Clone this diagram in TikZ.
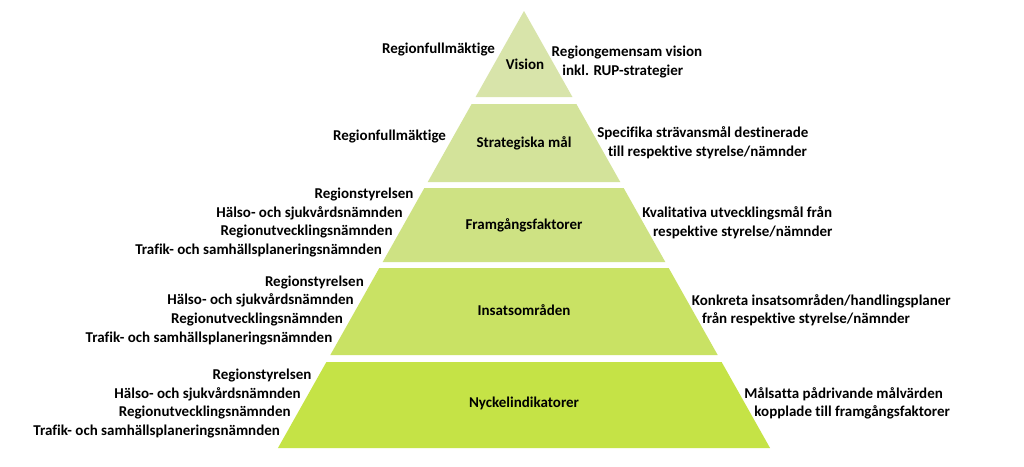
\documentclass[tikz,border=0pt]{standalone}
\usepackage{fontspec}
\setmainfont{Carlito}[Ligatures={NoCommon,NoRequired,NoContextual}]
\definecolor{lvA}{HTML}{D8E4AA}
\definecolor{lvB}{HTML}{D3E39A}
\definecolor{lvC}{HTML}{CEE283}
\definecolor{lvD}{HTML}{C9E264}
\definecolor{lvE}{HTML}{C5E346}
\newcommand\pyrX{524}
\newcommand\pyrS{0.563}
\newcommand\pyrLevel[3]{%
  \fill[#3] ({\pyrX-\pyrS*(#1-11)},#1) -- ({\pyrX+\pyrS*(#1-11)},#1)
    -- ({\pyrX+\pyrS*(#2-11)},#2) -- ({\pyrX-\pyrS*(#2-11)},#2) -- cycle;}
\newcommand\pyrL[3]{\node[lbl,anchor=base east] (#1) at ({\pyrX-\pyrS*(#2-11)-8},{#2+5}) {#3};}
\newcommand\pyrR[3]{\node[lbl,anchor=base west] (#1) at ({\pyrX+\pyrS*(#2-11)+5},{#2+5}) {#3};}
\begin{document}
\begin{tikzpicture}[x=1pt,y=-1pt,
  lbl/.style={inner sep=0pt,font=\fontsize{15}{18}\selectfont\bfseries,text=black}]
\useasboundingbox[fill=white] (0,0) rectangle (1024,466);
\pyrLevel{11}{97}{lvA}
\pyrLevel{104}{182}{lvB}
\pyrLevel{188}{262}{lvC}
\pyrLevel{268}{355}{lvD}
\pyrLevel{362}{448}{lvE}
% centre titles
\node[lbl,anchor=base] (t1) at (525,69) {Vision};
\node[lbl,anchor=base] (t2) at (524,147) {Strategiska mål};
\node[lbl,anchor=base] (t3) at (524,229) {Framgångsfaktorer};
\node[lbl,anchor=base] (t4) at (524,315) {Insatsområden};
\node[lbl,anchor=base] (t5) at (524,407) {Nyckelindikatorer};
% level 1
\pyrL{a1}{48}{Regionfullmäktige}
\pyrR{b1}{51}{Regiongemensam vision}
\pyrR{b2}{70}{inkl. RUP-strategier}
% level 2
\pyrL{a2}{135}{Regionfullmäktige}
\pyrR{c1}{132}{Specifika strävansmål destinerade}
\pyrR{c2}{151}{till respektive styrelse/nämnder}
% level 3
\pyrL{d1}{193}{Regionstyrelsen}
\pyrL{d2}{212}{Hälso- och sjukvårdsnämnden}
\pyrL{d3}{230}{Regionutvecklingsnämnden}
\pyrL{d4}{249}{Trafik- och samhällsplaneringsnämnden}
\pyrR{e1}{212}{Kvalitativa utvecklingsmål från}
\pyrR{e2}{231}{respektive styrelse/nämnder}
% level 4
\pyrL{f1}{281}{Regionstyrelsen}
\pyrL{f2}{299}{Hälso- och sjukvårdsnämnden}
\pyrL{f3}{318}{Regionutvecklingsnämnden}
\pyrL{f4}{337}{Trafik- och samhällsplaneringsnämnden}
\pyrR{g1}{300}{Konkreta insatsområden/handlingsplaner}
\pyrR{g2}{318}{från respektive styrelse/nämnder}
% level 5
\pyrL{h1}{374}{Regionstyrelsen}
\pyrL{h2}{393}{Hälso- och sjukvårdsnämnden}
\pyrL{h3}{411}{Regionutvecklingsnämnden}
\pyrL{h4}{430}{Trafik- och samhällsplaneringsnämnden}
\pyrR{k1}{393}{Målsatta pådrivande målvärden}
\pyrR{k2}{411}{kopplade till framgångsfaktorer}
\end{tikzpicture}
\end{document}
